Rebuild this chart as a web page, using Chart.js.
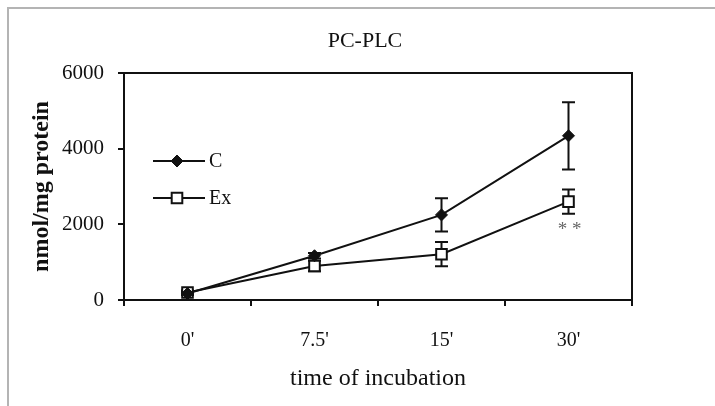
<!DOCTYPE html>
<html>
<head>
<meta charset="utf-8">
<script src="https://cdn.jsdelivr.net/npm/chart.js"></script>
<style>
  html, body { margin: 0; padding: 0; background: #fff; }
  #wrap { position: relative; width: 715px; height: 406px; overflow: hidden; }
  #frame { position: absolute; left: 7px; top: 7px; right: -5px; bottom: -5px;
           border-top: 2px solid #b4b4b4; border-left: 2px solid #b4b4b4; }
  #c { position: absolute; left: 0; top: 0; }
</style>
</head>
<body>
<div id="wrap">
  <div id="frame"></div>
  <canvas id="c" width="715" height="406"></canvas>
</div>
<script>
// data
var times = ["0'", "7.5'", "15'", "30'"];
var seriesNames = ['C', 'Ex'];
var cValues = [170, 1170, 2250, 4340];
var cErrors = [40, 70, 440, 890];
var exValues = [200, 900, 1210, 2600];
var exErrors = [50, 140, 320, 320];
var yTicks = [0, 2000, 4000, 6000];
var chartTitle = 'PC-PLC';
var signifMark = '* *';   // under Ex at 30'

var serif = '"Liberation Serif", "Times New Roman", serif';

// error bars, drawn under the markers
var errorBars = {
  id: 'errorBars',
  beforeDatasetsDraw: function (chart) {
    var ctx = chart.ctx, y = chart.scales.y;
    chart.data.datasets.forEach(function (ds, i) {
      var meta = chart.getDatasetMeta(i);
      ctx.save();
      ctx.strokeStyle = '#111';
      ctx.lineWidth = 2;
      meta.data.forEach(function (pt, j) {
        var v = ds.data[j], e = ds.errors[j];
        var top = y.getPixelForValue(v + e), bot = y.getPixelForValue(v - e);
        ctx.beginPath();
        ctx.moveTo(pt.x, top); ctx.lineTo(pt.x, bot);
        ctx.moveTo(pt.x - 6.5, top); ctx.lineTo(pt.x + 6.5, top);
        ctx.moveTo(pt.x - 6.5, bot); ctx.lineTo(pt.x + 6.5, bot);
        ctx.stroke();
      });
      ctx.restore();
    });
  }
};

// plot frame, title, legend, stars
var extras = {
  id: 'extras',
  afterDraw: function (chart) {
    var ctx = chart.ctx, a = chart.chartArea;
    ctx.save();
    ctx.strokeStyle = '#111';
    ctx.lineWidth = 2;
    ctx.beginPath();
    ctx.moveTo(a.left, a.top); ctx.lineTo(a.right, a.top); ctx.lineTo(a.right, a.bottom);
    ctx.stroke();

    ctx.fillStyle = '#111';
    ctx.font = '22px ' + serif;
    ctx.textAlign = 'center';
    ctx.textBaseline = 'middle';
    ctx.fillText(chartTitle, 365, 41);

    // legend
    var ly = [161, 198];
    chart.data.datasets.forEach(function (ds, i) {
      var yy = ly[i];
      ctx.strokeStyle = '#111';
      ctx.lineWidth = 2;
      ctx.beginPath();
      ctx.moveTo(153, yy); ctx.lineTo(205, yy);
      ctx.stroke();
      ctx.beginPath();
      if (ds.pointStyle === 'rectRot') {
        var r = ds.pointRadius;
        ctx.moveTo(177, yy - r); ctx.lineTo(177 + r, yy); ctx.lineTo(177, yy + r); ctx.lineTo(177 - r, yy);
        ctx.closePath();
      } else {
        var s = ds.pointRadius * Math.SQRT1_2;
        ctx.rect(177 - s, yy - s, 2 * s, 2 * s);
      }
      ctx.fillStyle = ds.pointBackgroundColor;
      ctx.fill();
      ctx.lineWidth = ds.pointBorderWidth;
      ctx.stroke();
      ctx.fillStyle = '#111';
      ctx.font = '20px ' + serif;
      ctx.textAlign = 'left';
      ctx.fillText(seriesNames[i], 209, yy + 1);
    });

    // significance stars
    var meta = chart.getDatasetMeta(1);
    var last = exValues.length - 1;
    var px = meta.data[last].x;
    var py = chart.scales.y.getPixelForValue(exValues[last] - exErrors[last]);
    ctx.fillStyle = '#666';
    ctx.font = '19px ' + serif;
    ctx.textAlign = 'center';
    ctx.fillText(signifMark, px + 1, py + 16);
    ctx.restore();
  }
};

new Chart(document.getElementById('c'), {
  type: 'line',
  data: {
    labels: times,
    datasets: [{
      label: seriesNames[0],
      data: cValues,
      errors: cErrors,
      borderColor: '#111',
      borderWidth: 2,
      pointStyle: 'rectRot',
      pointRadius: 6,
      pointBackgroundColor: '#111',
      pointBorderColor: '#111',
      pointBorderWidth: 1,
      tension: 0
    }, {
      label: seriesNames[1],
      data: exValues,
      errors: exErrors,
      borderColor: '#111',
      borderWidth: 2,
      pointStyle: 'rect',
      pointRadius: 7.5,
      pointBackgroundColor: '#fff',
      pointBorderColor: '#111',
      pointBorderWidth: 2,
      tension: 0
    }]
  },
  options: {
    responsive: false,
    animation: false,
    layout: { padding: { left: 10, right: 83, top: 73, bottom: 10 } },
    plugins: {
      legend: { display: false },
      title: { display: false },
      tooltip: { enabled: false }
    },
    scales: {
      x: {
        offset: true,
        grid: { offset: true, drawOnChartArea: false, drawTicks: true, tickLength: 6, color: '#111', lineWidth: 2 },
        border: { color: '#111', width: 2 },
        ticks: { color: '#111', font: { family: serif, size: 20 }, padding: 23 },
        title: { display: true, text: 'time of incubation', color: '#111',
                 font: { family: serif, size: 24 }, padding: { top: 0, bottom: 3 } },
        afterFit: function (s) { s.height = 96; }
      },
      y: {
        min: 0, max: 6000,
        afterBuildTicks: function (s) { s.ticks = yTicks.map(function (v) { return { value: v }; }); },
        grid: { drawOnChartArea: false, drawTicks: true, tickLength: 6, color: '#111', lineWidth: 2 },
        border: { color: '#111', width: 2 },
        ticks: { color: '#111', font: { family: serif, size: 21 }, padding: 14,
                 callback: function (v) { return String(v); } },
        title: { display: true, text: 'nmol/mg protein', color: '#111',
                 font: { family: serif, size: 24, weight: 'bold' }, padding: { top: 17, bottom: 0 } },
        afterFit: function (s) { s.width = 114; }
      }
    }
  },
  plugins: [errorBars, extras]
});
</script>
</body>
</html>
